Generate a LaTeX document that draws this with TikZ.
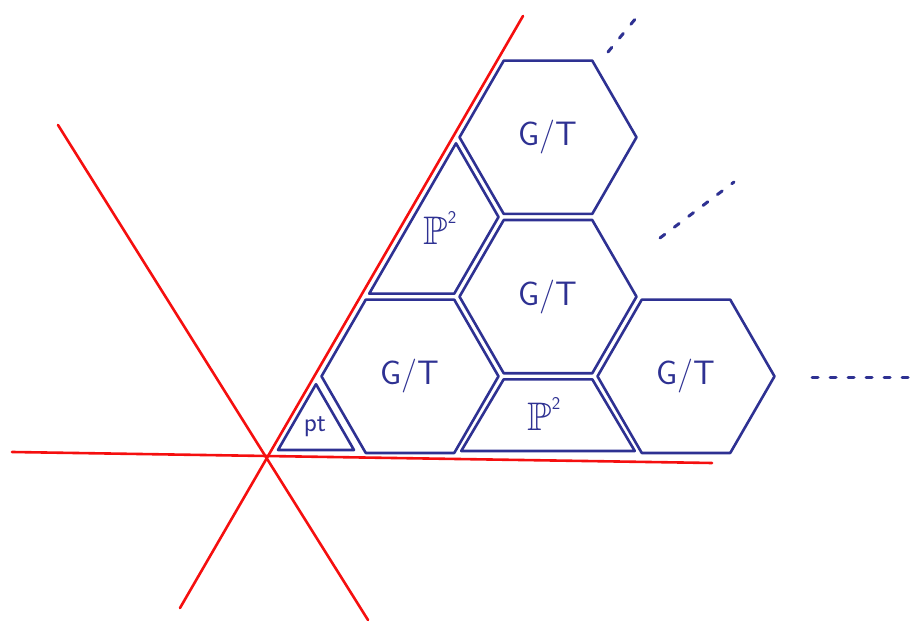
\documentclass[tikz,border=0pt]{standalone}
\usepackage{amssymb}
\usepackage{tikz}
\usetikzlibrary{shapes.geometric, calc}

\definecolor{cellblue}{RGB}{46,49,146}
\definecolor{wallred}{RGB}{245,15,15}

\newcommand{\projplane}{$\mathbb{P}$\raisebox{0.55em}{\sffamily\fontsize{18}{18}\selectfont 2}}

\begin{document}
\begin{tikzpicture}[
    x=1bp, y=1bp,
    hexcell/.style={regular polygon, regular polygon sides=6, minimum size=177bp, inner sep=0pt,
                    draw=cellblue, line width=2.6bp, line join=round, text=cellblue,
                    font=\sffamily\fontsize{34}{34}\selectfont},
    cell/.style={draw=cellblue, line width=2.6bp, line join=round},
    celltext/.style={text=cellblue, font=\fontsize{40}{40}\selectfont, inner sep=0pt},
    wall/.style={draw=wallred, line width=2.6bp, line cap=round},
    more/.style={draw=cellblue, line width=3bp, line cap=round, dash pattern=on 6bp off 12bp},
]
\useasboundingbox (-272,-166) rectangle (639,456);

% walls through the fixed point
\draw[wall] (-260,4) -- (440,-7);
\draw[wall] (-92,-152) -- (251,440);
\draw[wall] (-214,331) -- (96,-164);

% full cells
\node[hexcell] (h1) at (276,318.7) {G/T};
\node[hexcell] (h2) at (276,159.35) {G/T};
\node[hexcell] (h3) at (138,79.67) {G/T};
\node[hexcell] (h4) at (414,79.67) {G/T};

% cut cells along the walls
\draw[cell] (6,6) -- (82,6) -- (44,71.8) -- cycle;
\node[celltext, font=\sffamily\fontsize{27}{27}\selectfont] (pt) at (43,29) {pt};

\draw[cell] (189.2,5) -- (362.8,5) -- (320.3,76.67) -- (231.7,76.67) -- cycle;
\node[celltext] (pb) at (272,42) {\projplane};

\draw[cell] (184,312.7) -- (226.54,239) -- (182.27,162.35) -- (97.2,162.35) -- cycle;
\node[celltext] (pl) at (168,228) {\projplane};

% and so on
\coordinate (m1a) at (336,404);
\coordinate (m1b) at (369,444);
\coordinate (m2a) at (388,218);
\coordinate (m2b) at (462,274);
\coordinate (m3a) at (540,78);
\coordinate (m3b) at (638,78);
\draw[more] (m1a) -- (m1b);
\draw[more] (m2a) -- (m2b);
\draw[more] (m3a) -- (m3b);

\end{tikzpicture}
\end{document}
